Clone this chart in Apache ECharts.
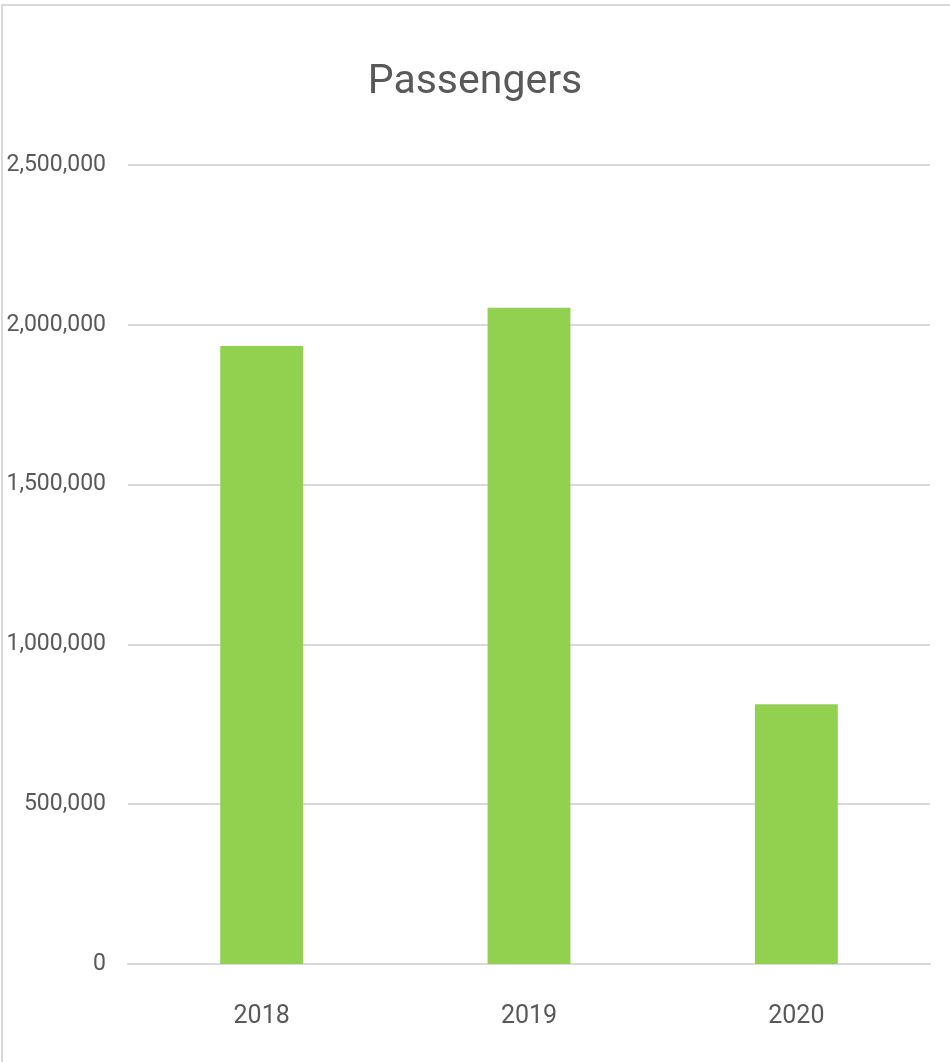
<!DOCTYPE html>
<html>
<head>
<meta charset="utf-8">
<script src="https://cdn.jsdelivr.net/npm/echarts@6/dist/echarts.min.js"></script>
<style>
  html, body { margin: 0; padding: 0; background: #fff; }
  #chart { position: absolute; left: 0; top: 0; width: 950px; height: 1062px; }
  #frame { position: absolute; left: 1px; top: 4px; width: 950px; height: 1060px;
           border-top: 2px solid #d9d9d9; border-left: 2px solid #d9d9d9; pointer-events: none; }
</style>
</head>
<body>
<div id="chart"></div>
<div id="frame"></div>
<script>
const chartTitle = 'Passengers';
const categories = ['2018', '2019', '2020'];
const passengers = [1934000, 2053000, 813000];
const yTicks = { min: 0, max: 2500000, interval: 500000 };

const FONT = "'Roboto', 'Liberation Sans', sans-serif";
const TEXT = '#595959';

const chart = echarts.init(document.getElementById('chart'), null, { renderer: 'canvas' });
chart.setOption({
  backgroundColor: '#ffffff',
  animation: false,
  title: {
    text: chartTitle,
    left: 'center',
    top: 57,
    textStyle: { fontFamily: FONT, fontSize: 41, fontWeight: 'normal', color: TEXT }
  },
  grid: { left: 128, right: 20, top: 165, bottom: 98, containLabel: false, outerBoundsMode: 'none' },
  xAxis: {
    type: 'category',
    data: categories,
    axisLine: { show: true, lineStyle: { color: '#d9d9d9', width: 2 } },
    axisTick: { show: false },
    axisLabel: { fontFamily: FONT, fontSize: 25, color: TEXT, margin: 40 }
  },
  yAxis: {
    type: 'value',
    min: yTicks.min,
    max: yTicks.max,
    interval: yTicks.interval,
    axisLine: { show: false },
    axisTick: { show: false },
    splitLine: { lineStyle: { color: '#d9d9d9', width: 2 } },
    axisLabel: {
      fontFamily: FONT, fontSize: 23, color: TEXT, margin: 22,
      formatter: v => v.toLocaleString('en-US')
    }
  },
  series: [{
    name: chartTitle,
    type: 'bar',
    data: passengers,
    barWidth: '31%',
    itemStyle: { color: '#92d050' }
  }]
});
</script>
</body>
</html>
